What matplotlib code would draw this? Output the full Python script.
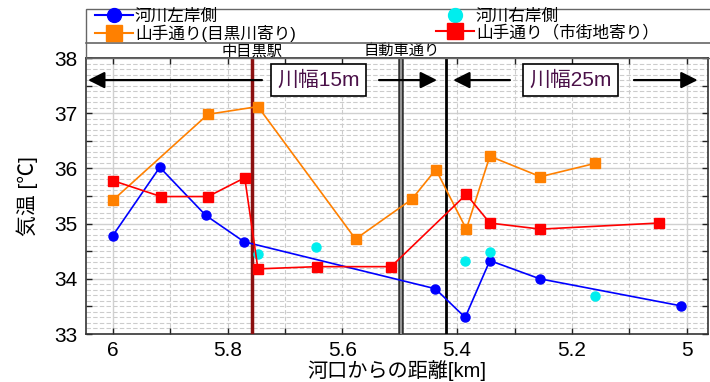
import numpy as np
import matplotlib.pyplot as plt
from matplotlib.lines import Line2D
from matplotlib.patches import Rectangle

plt.rcParams['font.family'] = ['Liberation Sans', 'Noto Sans CJK JP', 'DejaVu Sans']

# 河川左岸側
left_x = [6.00, 5.918, 5.838, 5.771, 5.438, 5.386, 5.343, 5.256, 5.010]
left_t = [34.78, 36.02, 35.15, 34.67, 33.82, 33.30, 34.33, 34.00, 33.51]
# 河川右岸側
right_x = [5.747, 5.645, 5.386, 5.343, 5.160]
right_t = [34.45, 34.57, 34.32, 34.49, 33.69]
# 山手通り(目黒川寄り)
yr_x = [6.00, 5.834, 5.747, 5.577, 5.479, 5.437, 5.384, 5.343, 5.255, 5.160]
yr_t = [35.42, 36.98, 37.12, 34.72, 35.44, 35.98, 34.90, 36.22, 35.85, 36.09]
# 山手通り（市街地寄り）
ys_x = [6.00, 5.916, 5.834, 5.770, 5.747, 5.644, 5.515, 5.384, 5.343, 5.255, 5.049]
ys_t = [35.78, 35.49, 35.49, 35.83, 34.18, 34.22, 34.22, 35.53, 35.01, 34.90, 35.01]

station_x = 5.758   # 中目黒駅
road_x = 5.497      # 自動車通り
width_x = 5.419     # 川幅の境

fig = plt.figure(figsize=(7.1, 3.82), dpi=100)
W, H = 710, 382
ax = fig.add_axes([86 / W, 1 - 334 / H, 622 / W, 276 / H])

ax.set_xlim(6.0465, 4.963)
ax.set_ylim(33, 38)

# grid: 0.1 step dashed, integer values solid
for v in np.arange(33.1, 38.0, 0.1):
    if abs(v - round(v)) < 1e-6:
        ax.axhline(v, color='#d0d0d0', lw=1.0, zorder=0)
    else:
        ax.axhline(v, color='#cccccc', lw=0.8, ls=(0, (4, 2)), zorder=0)
for v in np.arange(5.0, 6.05, 0.1):
    if abs(v - round(v)) < 1e-6:
        ax.axvline(v, color='#d0d0d0', lw=1.0, zorder=0)
    else:
        ax.axvline(v, color='#cccccc', lw=0.8, ls=(0, (4, 2)), zorder=0)

ax.set_xticks(np.arange(5.0, 6.01, 0.2))
ax.set_xticklabels(['5', '5.2', '5.4', '5.6', '5.8', '6'])
ax.set_xticks(np.arange(5.0, 6.01, 0.1), minor=True)
ax.set_yticks([33, 34, 35, 36, 37, 38])
ax.set_yticks(np.arange(33, 38.01, 0.5), minor=True)
ax.tick_params(which='both', direction='in', top=True, right=True,
               color='#222222', width=1.0)
ax.tick_params(which='major', length=4, labelsize=15)
ax.tick_params(which='minor', length=4)
ax.tick_params(axis='y', pad=6)
ax.tick_params(axis='x', pad=5)
for s in ax.spines.values():
    s.set_color('#333333')
    s.set_linewidth(1.2)

# 区切り線
ax.axvline(station_x, color='#8b1010', lw=2.5, zorder=3)
ax.axvline(road_x, color='#333333', lw=4.0, zorder=3)
ax.axvline(road_x, color='#aaaaaa', lw=1.2, zorder=3)
ax.axvline(width_x, color='black', lw=2.0, zorder=3)

ax.plot(left_x, left_t, color='#0000ff', lw=1.2, marker='o', ms=6.5, zorder=4)
ax.plot(right_x, right_t, ls='none', color='#00eeee', marker='o', ms=6.5, zorder=4)
ax.plot(yr_x, yr_t, color='#ff8000', lw=1.2, marker='s', ms=7, zorder=4)
ax.plot(ys_x, ys_t, color='#ff0000', lw=1.2, marker='s', ms=7, zorder=4)

ax.set_xlabel('河口からの距離[km]', fontsize=14.5, labelpad=0)
ax.set_ylabel('気温 [℃]', fontsize=15, labelpad=12)

# 川幅の矢印
arrow_y = 37.6
apr = dict(arrowstyle='-|>', color='black', lw=1.6, mutation_scale=25,
           shrinkA=0, shrinkB=0)
ax.annotate('', xy=(6.043, arrow_y), xytext=(5.740, arrow_y), arrowprops=apr, zorder=5)
ax.annotate('', xy=(5.435, arrow_y), xytext=(5.536, arrow_y), arrowprops=apr, zorder=5)
ax.annotate('', xy=(5.407, arrow_y), xytext=(5.308, arrow_y), arrowprops=apr, zorder=5)
ax.annotate('', xy=(4.981, arrow_y), xytext=(5.092, arrow_y), arrowprops=apr, zorder=5)
box = dict(boxstyle='square,pad=0.3', fc='white', ec='black', lw=1.2)
ax.text(5.642, arrow_y, '川幅15m', fontsize=15, color='#4a1048',
        ha='center', va='center', bbox=box, zorder=6)
ax.text(5.202, arrow_y, '川幅25m', fontsize=15, color='#4a1048',
        ha='center', va='center', bbox=box, zorder=6)

# 上部の地点名
trans = ax.get_xaxis_transform()
ax.text(station_x, 1.025, '中目黒駅', transform=trans, ha='center', va='center', fontsize=11)
ax.text(road_x, 1.025, '自動車通り', transform=trans, ha='center', va='center', fontsize=11)

# 凡例の枠
fig.patches.append(Rectangle((86 / W, 1 - 58 / H), 640 / W, 49 / H,
                             transform=fig.transFigure, fill=False,
                             ec='#666666', lw=1.0))
fig.add_artist(Line2D([86 / W, 1.0], [1 - 43 / H, 1 - 43 / H],
                      transform=fig.transFigure, color='#666666', lw=1.2))

handles = [
    Line2D([], [], color='#0000ff', lw=1.5, marker='o', ms=10),
    Line2D([], [], color='#ff8000', lw=1.5, marker='s', ms=11),
    Line2D([], [], ls='none', color='#00eeee', marker='o', ms=10),
    Line2D([], [], color='#ff0000', lw=1.5, marker='s', ms=11),
]
labels = ['河川左岸側', '山手通り(目黒川寄り)', '河川右岸側', '山手通り（市街地寄り）']
fig.legend(handles, labels, loc='upper left', bbox_to_anchor=(95 / W, 1 - 9 / H),
           ncol=2, frameon=False, fontsize=12, handlelength=2.3, handletextpad=0.1,
           labelspacing=0.0, columnspacing=8.4, borderpad=0, borderaxespad=0)

fig.savefig('out.png', dpi=100)
